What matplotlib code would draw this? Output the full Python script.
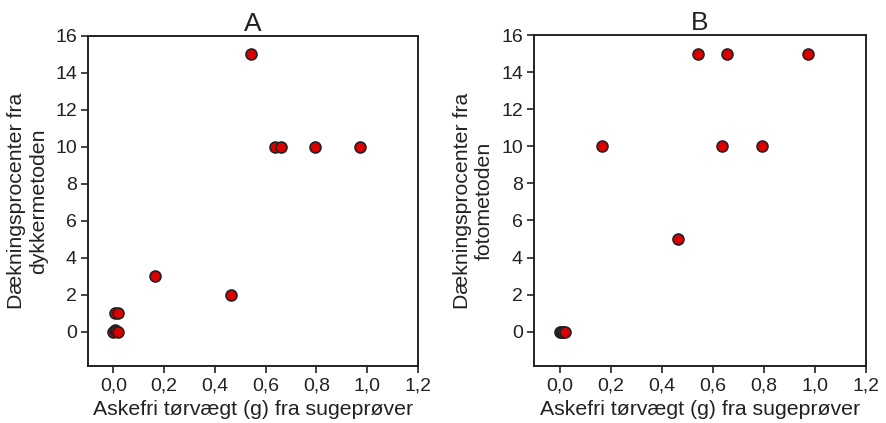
import matplotlib
matplotlib.use('Agg')
import matplotlib.pyplot as plt
from matplotlib.ticker import FixedLocator

plt.rcParams['font.family'] = ['Liberation Sans', 'DejaVu Sans']

# === Panel A: diver method ===
x_a = [0.0, 0.005, 0.01, 0.02, 0.005, 0.018, 0.165, 0.463, 0.541, 0.636, 0.659, 0.793, 0.973]
y_a = [0.0, 0.1, 0.05, 0.0, 1.0, 1.0, 3.0, 2.0, 15.0, 10.0, 10.0, 10.0, 10.0]

# === Panel B: photo method ===
x_b = [0.0, 0.005, 0.01, 0.015, 0.02, 0.165, 0.463, 0.541, 0.657, 0.973, 0.636, 0.793]
y_b = [0.0, 0.0, 0.0, 0.0, 0.0, 10.0, 5.0, 15.0, 15.0, 15.0, 10.0, 10.0]

titles = ['A', 'B']
ylabels = ['Dækningsprocenter fra\ndykkermetoden', 'Dækningsprocenter fra\nfotometoden']
xlabel = 'Askefri tørvægt (g) fra sugeprøver'
xticks = [0.0, 0.2, 0.4, 0.6, 0.8, 1.0, 1.2]
yticks = [0, 2, 4, 6, 8, 10, 12, 14, 16]

fig = plt.figure(figsize=(8.86, 4.23), dpi=100)
boxes = [[88/886, 57/423, 330/886, 330/423], [534/886, 57/423, 332/886, 331/423]]

for i, (xs, ys) in enumerate([(x_a, y_a), (x_b, y_b)]):
    ax = fig.add_axes(boxes[i])
    ax.scatter(xs, ys, s=62, color='#dd0000', edgecolors='#222222', linewidths=1.2, zorder=3)
    ax.set_xlim(-0.1, 1.2)
    ax.set_ylim(-1.85, 16)
    ax.xaxis.set_major_locator(FixedLocator(xticks))
    ax.yaxis.set_major_locator(FixedLocator(yticks))
    ax.set_xticklabels([f'{t:.1f}'.replace('.', ',') for t in xticks])
    ax.set_yticklabels([str(t) for t in yticks])
    ax.tick_params(labelsize=14, colors='#222222', length=5, width=1.2, direction='out',
                   top=False, right=False, pad=3)
    for sp in ax.spines.values():
        sp.set_linewidth(1.4)
        sp.set_color('#222222')
    ax.set_title(titles[i], fontsize=19, color='#222222', pad=3)
    ax.set_xlabel(xlabel, fontsize=15.3, color='#222222', labelpad=4)
    ax.set_ylabel(ylabels[i], fontsize=15.3, color='#222222', labelpad=5)

fig.savefig('out.png', dpi=100)
